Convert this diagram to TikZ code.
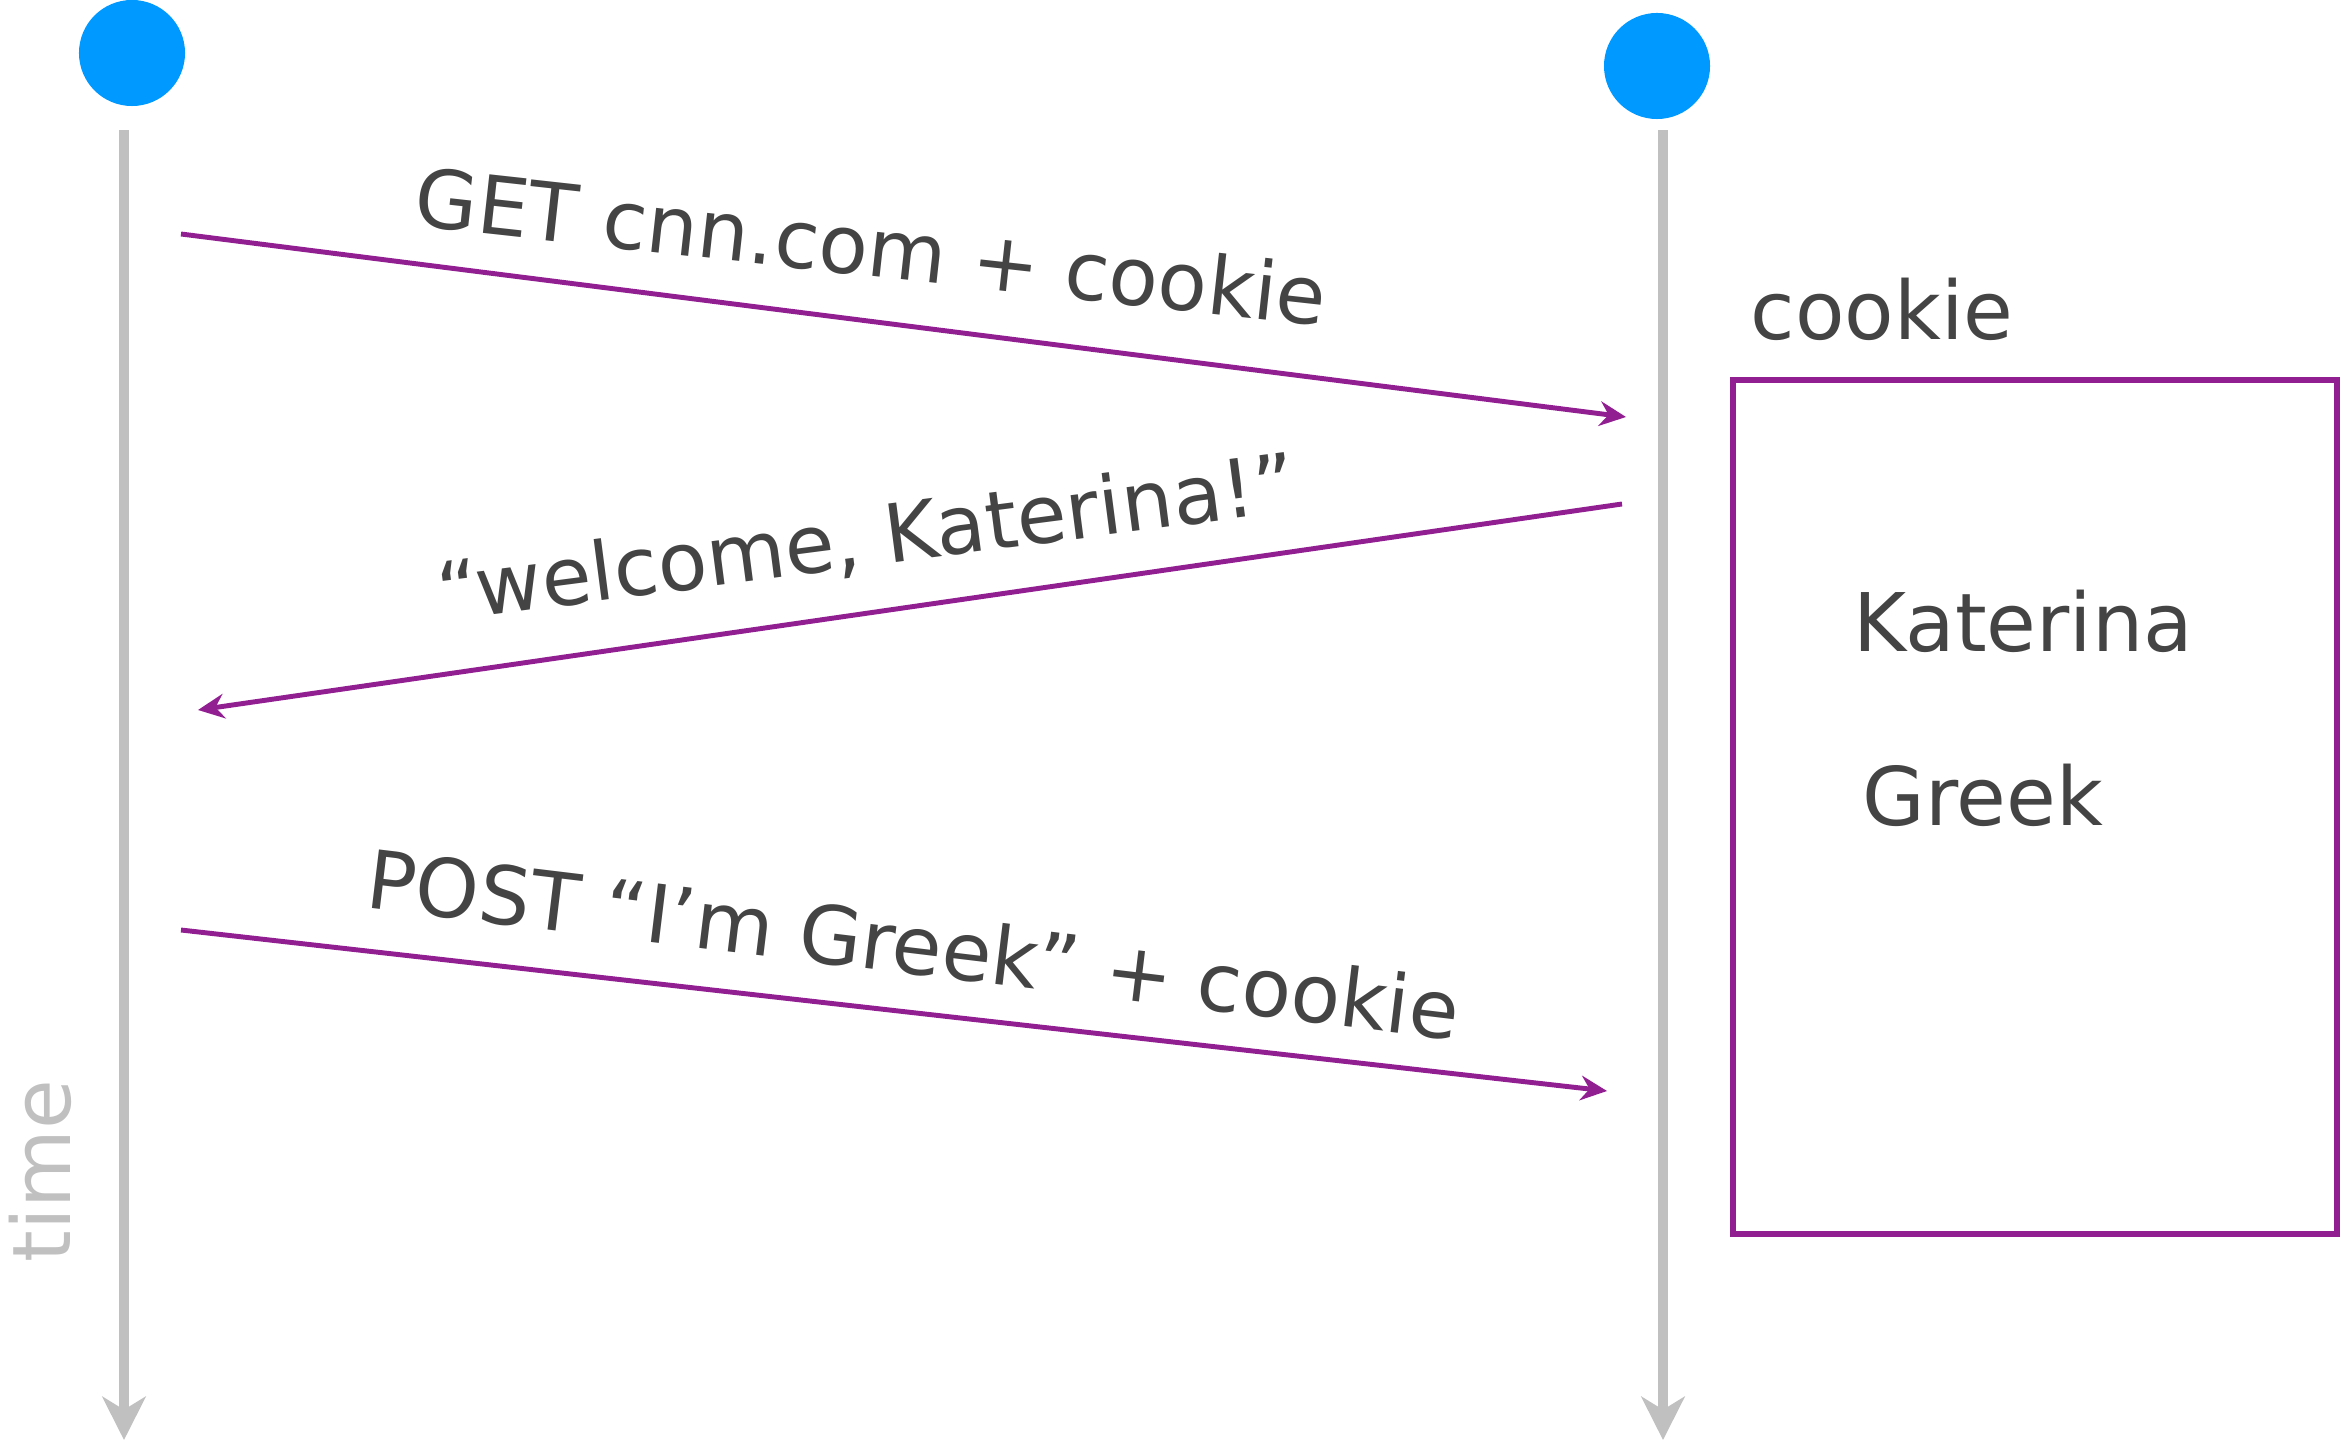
\documentclass[tikz,border=0pt]{standalone}
\usepackage{fontspec}
\setmainfont{DejaVu Sans}
\usetikzlibrary{arrows.meta}

\definecolor{dotblue}{HTML}{0099FF}
\definecolor{msgpurple}{HTML}{921F92}
\definecolor{textgray}{HTML}{444444}
\definecolor{lifegray}{HTML}{C0C0C0}

\tikzset{
  lbl/.style={text=textgray,font=\fontsize{23}{28}\selectfont,inner sep=0pt},
  dot/.style={circle,fill=dotblue,minimum size=1.06cm,inner sep=0pt},
  lifeline/.style={lifegray,line width=2.8pt,-{Stealth[length=12.3pt,width=12.3pt,inset=3.7pt]}},
  msg/.style={msgpurple,line width=1.4pt,-{Stealth[length=7.5pt,width=7pt,inset=2.5pt]}}
}

\begin{document}
\begin{tikzpicture}[x=0.01cm,y=-0.01cm]
  \useasboundingbox (0,0) rectangle (2340,1443);

  % the two ends
  \node[dot] (browser) at (132,53) {};
  \node[dot] (server) at (1657,66) {};

  % time lines
  \coordinate (browserTop) at (124,130);
  \coordinate (browserEnd) at (124,1440);
  \coordinate (serverTop) at (1663,130);
  \coordinate (serverEnd) at (1663,1440);
  \draw[lifeline] (browserTop) -- (browserEnd);
  \draw[lifeline] (serverTop) -- (serverEnd);
  \node[lbl,text=lifegray,rotate=90] (time) at (40,1171) {time};

  % messages
  \coordinate (get1) at (181,234);
  \coordinate (get2) at (1626,417);
  \draw[msg] (get1) -- (get2);
  \node[lbl,anchor=base,rotate=-6.3] (getLbl) at (868,276) {GET cnn.com + cookie};

  \coordinate (wel1) at (1622,504);
  \coordinate (wel2) at (198,710);
  \draw[msg] (wel1) -- (wel2);
  \node[lbl,anchor=base,rotate=7.4] (welLbl) at (870,566) {“welcome, Katerina!”};

  \coordinate (post1) at (181,930);
  \coordinate (post2) at (1607,1091);
  \draw[msg] (post1) -- (post2);
  \node[lbl,anchor=base,rotate=-6.9] (postLbl) at (910,974) {POST “I’m Greek” + cookie};

  % cookie jar
  \node[lbl,anchor=base west] (jarLbl) at (1750,340) {cookie};
  \node[draw=msgpurple,line width=1.7pt,minimum width=6.03cm,minimum height=8.53cm,inner sep=0pt] (jar) at (2035,807) {};
  \node[lbl,anchor=base west] (name) at (1853,652) {Katerina};
  \node[lbl,anchor=base west] (lang) at (1862,825) {Greek};
\end{tikzpicture}
\end{document}
